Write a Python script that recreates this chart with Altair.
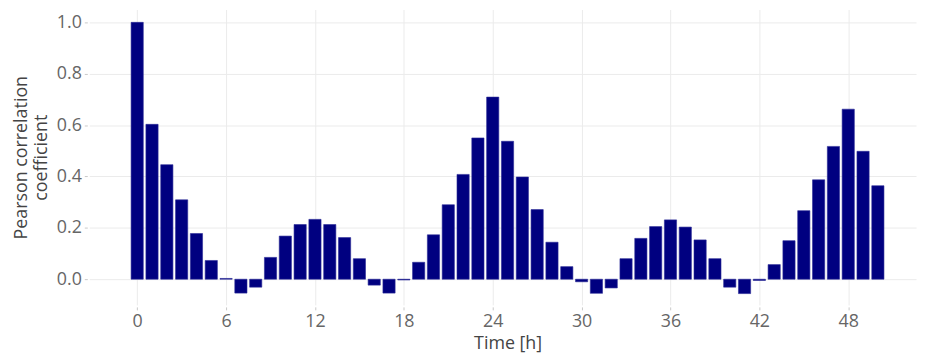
import altair as alt
import pandas as pd

lags = list(range(51))
values = [1.0, 0.603, 0.446, 0.309, 0.178, 0.073, 0.003, -0.054, -0.031, 0.085,
          0.168, 0.213, 0.233, 0.213, 0.162, 0.080, -0.023, -0.054, -0.003, 0.066,
          0.173, 0.290, 0.408, 0.550, 0.709, 0.537, 0.398, 0.271, 0.144, 0.049,
          -0.010, -0.055, -0.034, 0.080, 0.159, 0.205, 0.231, 0.203, 0.153, 0.080,
          -0.031, -0.056, -0.005, 0.057, 0.150, 0.267, 0.387, 0.517, 0.662, 0.498, 0.364]
x_ticks = [0, 6, 12, 18, 24, 30, 36, 42, 48]
y_ticks = [0.0, 0.2, 0.4, 0.6, 0.8, 1.0]

df = pd.DataFrame({"lag": lags, "r": values})

FONT = "Open Sans"

chart = alt.Chart(df).mark_bar(
    size=12.3, color="#000080", stroke="#2a2a96", strokeWidth=0.6
).encode(
    x=alt.X("lag:Q",
            scale=alt.Scale(domain=[-2.9, 52.24], nice=False, zero=False),
            axis=alt.Axis(values=x_ticks, title="Time [h]", grid=True,
                          gridColor="#ebebeb", domain=False, tickColor="#c8c8c8",
                          tickSize=3, offset=2, labelPadding=3,
                          labelFont=FONT, labelFontSize=18, labelColor="#666666",
                          titleFont=FONT, titleFontSize=18, titleColor="#444444",
                          titleFontWeight="normal", titlePadding=4, titleX=422,
                          labelFlush=False)),
    y=alt.Y("r:Q",
            scale=alt.Scale(domain=[-0.1, 1.05], nice=False, zero=False),
            axis=alt.Axis(values=y_ticks, format=".1f",
                          title=["Pearson correlation", "coefficient"], grid=True,
                          gridColor="#ebebeb", domain=False, tickColor="#c8c8c8",
                          tickSize=3, offset=2, labelPadding=3,
                          labelFont=FONT, labelFontSize=18, labelColor="#666666",
                          titleFont=FONT, titleFontSize=18, titleColor="#444444",
                          titleFontWeight="normal", titlePadding=6, titleLineHeight=20,
                          labelFlush=False)),
).properties(
    width=834, height=298,
    autosize=alt.AutoSizeParams(type="none"),
    padding={"left": 82, "top": 0, "right": 1, "bottom": 48},
).configure_view(stroke=None)

chart.save("out.html", embed_options={"renderer": "svg", "actions": False})
